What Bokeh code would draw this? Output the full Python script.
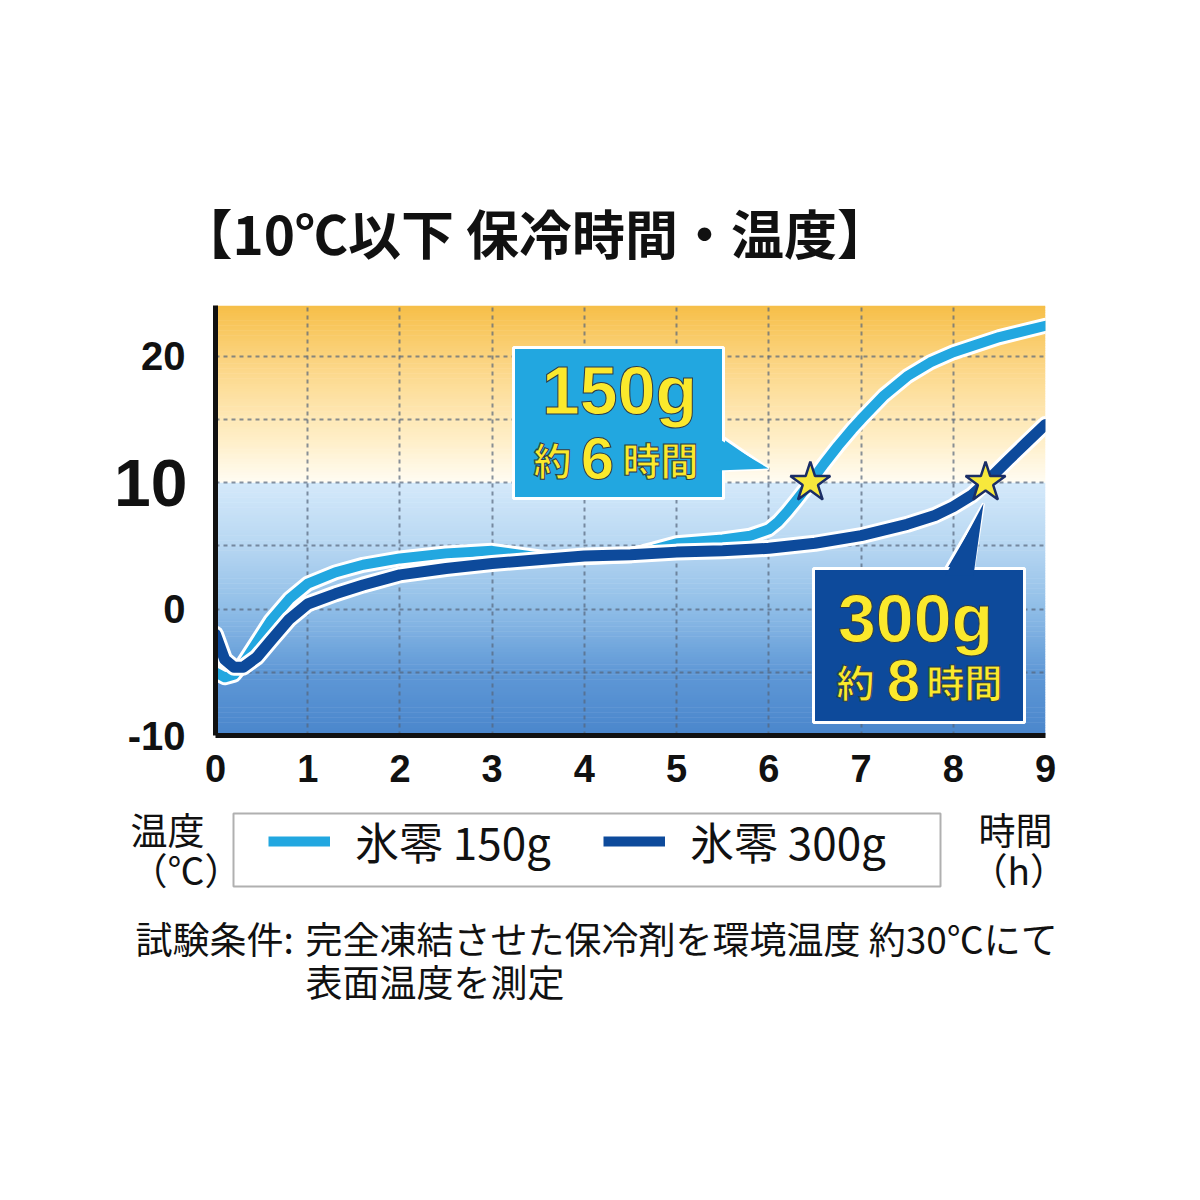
import numpy as np
from bokeh.plotting import figure
from bokeh.layouts import column
from bokeh.models import (Range1d, FixedTicker, Label, Legend, LegendItem,
                          ColumnDataSource, LinearAxis)
from bokeh.core.properties import value
from bokeh.embed import file_html
from bokeh.resources import INLINE

# ---------------- data ----------------
hours_150 = [0, 0.1, 0.2, 0.3, 0.45, 0.6, 0.8, 1.0, 1.3, 1.6, 2.0, 2.5, 3.0,
             3.3, 3.6, 4.0, 4.5, 4.75, 5.0, 5.5, 5.8, 6.0, 6.1, 6.2, 6.3,
             6.45, 6.6, 6.75, 6.9, 7.0, 7.25, 7.5, 7.75, 8.0, 8.5, 9.0]
temp_150 = [-5.0, -5.4, -5.2, -4.3, -2.6, -0.9, 0.8, 2.0, 2.9, 3.5, 4.0, 4.4,
            4.6, 4.3, 4.0, 4.1, 4.25, 4.7, 5.2, 5.5, 5.8, 6.3, 6.9, 7.7, 8.6,
            10.0, 11.5, 12.9, 14.2, 15.0, 16.9, 18.4, 19.5, 20.3, 21.5, 22.4]

hours_300 = [0, 0.1, 0.2, 0.3, 0.45, 0.6, 0.8, 1.0, 1.3, 1.6, 2.0, 2.5, 3.0,
             3.5, 4.0, 4.5, 5.0, 5.5, 6.0, 6.5, 7.0, 7.5, 7.8, 8.0, 8.2,
             8.35, 8.6, 8.8, 9.0]
temp_300 = [-2.0, -4.0, -4.6, -4.6, -3.8, -2.5, -0.8, 0.4, 1.2, 1.9, 2.7, 3.2,
            3.6, 3.9, 4.2, 4.3, 4.5, 4.6, 4.8, 5.2, 5.8, 6.7, 7.4, 8.1, 9.0,
            10.0, 11.8, 13.2, 14.6]

series_names = ["氷零 150g", "氷零 300g"]
cross_hours = [6.45, 8.35]          # time when each pack passes 10 ℃
threshold = 10
callout_weight = ["150g", "300g"]
callout_hours = ["6", "8"]
x_ticks = [0, 1, 2, 3, 4, 5, 6, 7, 8, 9]
y_ticks = [-10, 0, 20]
y_big_tick = [10]
y_grid_ticks = [-5, 0, 5, 10, 15, 20]
title_text = "【10℃以下 保冷時間・温度】"
y_unit = ["温度", "（℃）"]
x_unit = ["時間", "（h）"]
note_head = "試験条件:"
note_line1 = "完全凍結させた保冷剤を環境温度 約30℃にて"
note_line2 = "表面温度を測定"

# ---------------- styles ----------------
LIGHT = "#22a7e0"
DARK = "#0d4a9b"
YELLOW = "#fbe92c"
CJK = "Noto Sans CJK JP"
LAT = "Liberation Sans"

W = 1184
X0, X1, Y0, Y1 = 0, 9, -10, 24
FL, FR, FT, FB = 215, 1045, 305, 735   # frame in page pixels
HA = 800                               # height of the chart figure


def dx(px):
    return X0 + (px - FL) / (FR - FL) * (X1 - X0)


def dy(py):
    return Y1 - (py - FT) / (FB - FT) * (Y1 - Y0)


p = figure(width=W, height=HA, x_range=Range1d(X0, X1),
           y_range=Range1d(Y0, Y1), output_backend="svg",
           toolbar_location=None, min_border_left=FL,
           min_border_right=W - FR, min_border_top=FT,
           min_border_bottom=HA - FB)
p.outline_line_color = None
p.background_fill_color = "white"
p.border_fill_color = "white"

# title
p.title.text = title_text
p.title.text_font = CJK
p.title.text_font_style = "bold"
p.title.text_font_size = "53px"
p.title.text_color = "#111111"
p.title.align = "left"
p.title.offset = -36
p.title.standoff = 71

# background gradient (two bands split at 10 ℃)
blue_stops_y = [-10, -5, 0, 5, 10]
blue_stops_c = ["#4a86cc", "#5f98d6", "#8fbde7", "#b7d7f2", "#d4e9fa"]
yel_stops_y = [10, 13, 17, 20, 24]
yel_stops_c = ["#fffcf3", "#fff0cc", "#fde0a0", "#fbd27c", "#f6bf48"]


def hex2rgb(h):
    h = h.lstrip("#")
    return np.array([int(h[i:i + 2], 16) for i in (0, 2, 4)], dtype=float)


def interp_color(y, ys, cs):
    rgb = [np.interp(y, ys, [hex2rgb(c)[k] for c in cs]) for k in range(3)]
    return "#%02x%02x%02x" % tuple(int(round(v)) for v in rgb)


edges = np.linspace(Y0, Y1, 171)
bots, tops, cols = [], [], []
for a, b in zip(edges[:-1], edges[1:]):
    m = 0.5 * (a + b)
    if m < threshold:
        c = interp_color(m, blue_stops_y, blue_stops_c)
    else:
        c = interp_color(m, yel_stops_y, yel_stops_c)
    bots.append(a)
    tops.append(min(b + 0.04, Y1) if abs(b - threshold) > 1e-6 else b)
    cols.append(c)
p.quad(left=X0, right=X1, bottom=bots, top=tops, fill_color=cols,
       line_color=None, level="image")

# grid
p.xgrid.ticker = FixedTicker(ticks=x_ticks[1:])
p.ygrid.ticker = FixedTicker(ticks=y_grid_ticks)
for g in (p.xgrid, p.ygrid):
    g.grid_line_color = "#56657a"
    g.grid_line_alpha = 0.7
    g.grid_line_dash = "4 4"
    g.grid_line_width = 2

# axes
p.xaxis.ticker = FixedTicker(ticks=x_ticks)
p.yaxis.ticker = FixedTicker(ticks=y_ticks)
p.yaxis.major_label_overrides = {-10: "-10"}
big_axis = LinearAxis(ticker=FixedTicker(ticks=y_big_tick))
p.add_layout(big_axis, "left")
for ax in (p.xaxis[0], p.yaxis[0], big_axis):
    ax.axis_line_color = "#111111"
    ax.axis_line_width = 5
    ax.major_tick_line_color = None
    ax.minor_tick_line_color = None
    ax.major_tick_out = 0
    ax.major_tick_in = 0
    ax.major_label_text_font = LAT
    ax.major_label_text_font_style = "bold"
    ax.major_label_text_color = "#111111"
p.xaxis.major_label_text_font_size = "38px"
p.xaxis.major_label_standoff = 19
p.yaxis[0].major_label_text_font_size = "40px"
p.yaxis[0].major_label_standoff = 30
big_axis.axis_line_color = None
big_axis.major_label_text_font_size = "66px"
big_axis.major_label_standoff = -63

# curves
s150 = ColumnDataSource(dict(x=hours_150, y=temp_150))
s300 = ColumnDataSource(dict(x=hours_300, y=temp_300))
p.line("x", "y", source=s150, line_color="white", line_width=16,
       line_join="round", line_cap="round")
p.line("x", "y", source=s150, line_color=LIGHT, line_width=10,
       line_join="round", line_cap="round")
p.line("x", "y", source=s300, line_color="white", line_width=17,
       line_join="round", line_cap="round")
p.line("x", "y", source=s300, line_color=DARK, line_width=11,
       line_join="round", line_cap="round")

# callout boxes
boxes = [
    dict(l=513, r=723, t=347, b=498, fill=LIGHT,
         ptr=[(723, 437), (768, 468), (723, 470)],
         ptr_fill=[(716, 437), (768, 468), (716, 470)]),
    dict(l=813, r=1024, t=568, b=722, fill=DARK,
         ptr=[(945, 568), (983, 503), (973, 568)],
         ptr_fill=[(945, 575), (983, 503), (973, 575)]),
]
for bx in boxes:
    p.patch([dx(a) for a, _ in bx["ptr"]], [dy(b) for _, b in bx["ptr"]],
            fill_color=bx["fill"], line_color="white", line_width=3)
    p.quad(left=dx(bx["l"]), right=dx(bx["r"]), top=dy(bx["t"]),
           bottom=dy(bx["b"]), fill_color=bx["fill"], line_color="white",
           line_width=3)
    p.patch([dx(a) for a, _ in bx["ptr_fill"]],
            [dy(b) for _, b in bx["ptr_fill"]],
            fill_color=bx["fill"], line_color=None)

# stars
p.scatter(x=cross_hours, y=[threshold] * len(cross_hours), marker="star",
          size=42, fill_color="#f7e83c", line_color="#1a2d66", line_width=2.5)

# callout texts
centers = [(619, 389, 552, 597, 660, 458), (915, 617, 855, 903, 964, 680)]
for i, (cx, cy, yx, nx, hx, ly) in enumerate(centers):
    common = dict(text_color=YELLOW, text_align="center",
                  text_baseline="middle", text_font_style="bold",
                  text_outline_color="#2c3a4a")
    p.add_layout(Label(x=dx(cx), y=dy(cy), text=callout_weight[i],
                       text_font=LAT, text_font_size="68px", **common))
    p.add_layout(Label(x=dx(yx), y=dy(ly), text="約",
                       text_font=CJK, text_font_size="38px", **common))
    p.add_layout(Label(x=dx(nx), y=dy(ly), text=callout_hours[i],
                       text_font=LAT, text_font_size="60px", **common))
    p.add_layout(Label(x=dx(hx), y=dy(ly), text="時間",
                       text_font=CJK, text_font_size="38px", **common))

# ---------------- lower panel: legend and notes ----------------
TOP_B, BOT_B = HA, 1020
q = figure(width=W, height=BOT_B - TOP_B, x_range=Range1d(0, W),
           y_range=Range1d(BOT_B, TOP_B), output_backend="svg",
           toolbar_location=None, x_axis_location=None,
           y_axis_location=None, min_border=0, min_border_left=0,
           min_border_right=0, min_border_top=0, min_border_bottom=0)
for fig in (p, q):
    try:
        fig.frame_align = False
    except Exception:
        pass
q.grid.visible = False
q.outline_line_color = None
q.background_fill_color = "white"
q.border_fill_color = "white"

q.quad(left=233, right=940, top=813, bottom=886, fill_color="white",
       line_color="#b0b0b0", line_width=2)
# legend key renderers (styled like the curves, nothing to plot here)
nan = float("nan")
lg150 = q.line(x=[nan], y=[nan], line_color=LIGHT, line_width=10)
lg300 = q.line(x=[nan], y=[nan], line_color=DARK, line_width=10)
legend = Legend(items=[LegendItem(label=series_names[0], renderers=[lg150]),
                       LegendItem(label=series_names[1], renderers=[lg300])],
                orientation="horizontal", location=(268, BOT_B - 873))
legend.label_text_font = CJK
legend.label_text_font_size = "44px"
legend.label_text_color = "#111111"
legend.glyph_width = 62
legend.glyph_height = 44
legend.label_height = 44
legend.label_standoff = 25
legend.spacing = 52
legend.padding = 0
legend.margin = 0
legend.border_line_color = None
legend.background_fill_alpha = 0
q.add_layout(legend, "center")

tx = [130, 130, 978, 970, 135, 305, 305]
ty = [828, 868, 828, 868, 937, 937, 980]
tt = [y_unit[0], y_unit[1], x_unit[0], x_unit[1], note_head, note_line1,
      note_line2]
tsz = ["37px", "37px", "37px", "37px", "37px", "37px", "37px"]
q.text(x=tx, y=ty, text=tt, text_font=value(CJK), text_font_size=tsz,
       text_color="#111111", text_baseline="middle", text_align="left")

layout = column(p, q, spacing=0)
open("out.html", "w").write(file_html(layout, INLINE))
